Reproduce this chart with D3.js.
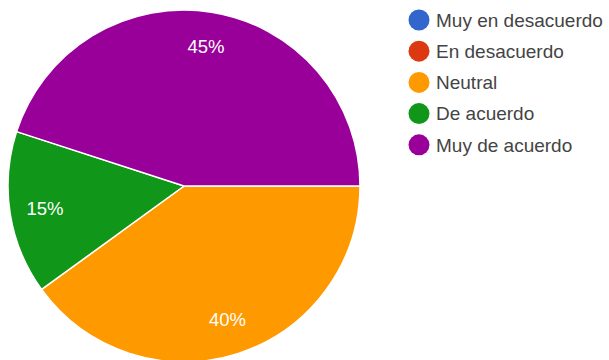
<!DOCTYPE html>
<html>
  <head>
    <style>
      html, body {
        padding: 0;
        margin: 0;
        overflow: hidden;
        background: #ffffff;
      }
      text {
        font-family: "Liberation Sans", Arial, sans-serif;
      }
    </style>
  </head>
  <body>
    <div id="chart"></div>
    <script src="https://cdnjs.cloudflare.com/ajax/libs/d3/7.8.5/d3.min.js"></script>
    <script>
      const categories = ['Muy en desacuerdo', 'En desacuerdo', 'Neutral', 'De acuerdo', 'Muy de acuerdo']
      const values = [0, 0, 40, 15, 45]
      const colors = ['#3366cc', '#dc3912', '#ff9900', '#109618', '#990099']

      const width = 609
      const height = 360
      const cx = 184
      const cy = 186
      const radius = 176

      const svg = d3.select('#chart')
        .append('svg')
        .attr('width', width)
        .attr('height', height)

      const data = categories.map((c, i) => ({ name: c, value: values[i], color: colors[i] }))

      // slices start at 3 o'clock and go clockwise
      const pie = d3.pie()
        .value(d => d.value)
        .sort(null)
        .startAngle(Math.PI / 2)
        .endAngle(Math.PI / 2 + Math.PI * 2)

      const arc = d3.arc().innerRadius(0).outerRadius(radius)
      const labelArc = d3.arc().innerRadius(radius * 0.8).outerRadius(radius * 0.8)

      const g = svg.append('g').attr('transform', `translate(${cx},${cy})`)
      const arcs = pie(data).filter(d => d.data.value > 0)

      g.selectAll('path')
        .data(arcs)
        .enter().append('path')
        .attr('d', arc)
        .attr('fill', d => d.data.color)
        .attr('stroke', '#ffffff')
        .attr('stroke-width', 1.5)

      g.selectAll('.lbl')
        .data(arcs)
        .enter().append('text')
        .attr('class', 'lbl')
        .attr('x', d => labelArc.centroid(d)[0])
        .attr('y', d => labelArc.centroid(d)[1])
        .attr('dy', '0.35em')
        .attr('text-anchor', 'middle')
        .attr('fill', '#ffffff')
        .attr('font-size', 18.5)
        .text(d => d.data.value + '%')

      // legend
      const legend = svg.append('g').attr('transform', 'translate(419,20)')
      const item = legend.selectAll('g')
        .data(data)
        .enter().append('g')
        .attr('transform', (d, i) => `translate(0,${i * 31.2})`)

      item.append('circle')
        .attr('r', 10.5)
        .attr('fill', d => d.color)

      item.append('text')
        .attr('x', 17)
        .attr('dy', '0.36em')
        .attr('font-size', 19)
        .attr('fill', '#444444')
        .text(d => d.name)
    </script>
  </body>
</html>
